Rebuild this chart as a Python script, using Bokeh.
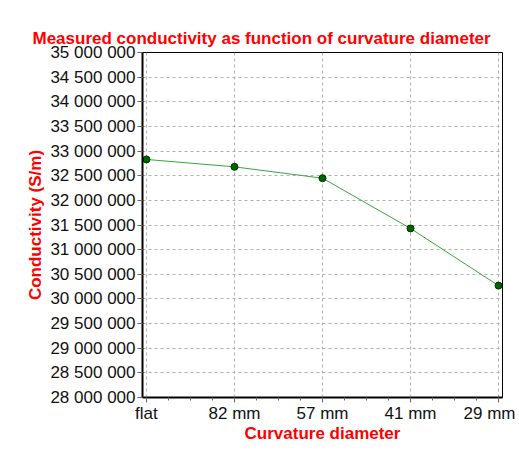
from bokeh.plotting import figure
from bokeh.models import FixedTicker, ColumnDataSource, Range1d
from bokeh.embed import file_html
from bokeh.resources import INLINE

categories = ["flat", "82 mm", "57 mm", "41 mm", "29 mm"]
conductivity = [32830000, 32680000, 32450000, 31430000, 30270000]
y_ticks = list(range(28000000, 35000001, 500000))

xs = list(range(len(categories)))
src = ColumnDataSource(dict(x=xs, y=conductivity))

W, H = 515, 450
p = figure(width=W, height=H, output_backend="svg", toolbar_location=None,
           x_range=Range1d(-0.045, 4.045), y_range=Range1d(28000000, 35000000),
           min_border_left=142, min_border_right=W - 502,
           min_border_top=52, min_border_bottom=H - 397,
           background_fill_color="white", border_fill_color="white")

p.title.text = "Measured conductivity as function of curvature diameter"
p.title.text_color = "#ff0000"
p.title.text_font = "Liberation Sans"
p.title.text_font_size = "17px"
p.title.text_font_style = "bold"
p.title.align = "left"
p.title.offset = -110
p.title.standoff = 9

p.outline_line_color = "black"
p.outline_line_width = 1

p.xaxis.ticker = FixedTicker(ticks=xs, minor_ticks=[i / 4 for i in range(0, 17)])
p.xaxis.major_label_overrides = {i: c for i, c in enumerate(categories)}
p.yaxis.ticker = FixedTicker(ticks=y_ticks)
p.yaxis.major_label_overrides = {v: f"{v:,}".replace(",", " ") for v in y_ticks}

for ax in (p.xaxis[0], p.yaxis[0]):
    ax.axis_line_color = "black"
    ax.axis_line_width = 2
    ax.major_tick_line_color = "#666666"
    ax.minor_tick_line_color = "#666666"
    ax.major_tick_in = 0
    ax.major_tick_out = 5
    ax.minor_tick_in = 0
    ax.minor_tick_out = 3
    ax.major_label_text_font = "Liberation Sans"
    ax.major_label_text_font_size = "17px"
    ax.major_label_text_color = "#111111"
    ax.axis_label_text_font = "Liberation Sans"
    ax.axis_label_text_font_size = "17px"
    ax.axis_label_text_font_style = "bold"
    ax.axis_label_text_color = "#ff0000"

p.yaxis.minor_tick_line_color = None
p.xaxis.axis_label = "Curvature diameter"
p.yaxis.axis_label = "Conductivity (S/m)"
p.xaxis.major_label_standoff = 1
p.yaxis.major_label_standoff = 2
p.xaxis.axis_label_standoff = -2
p.yaxis.axis_label_standoff = 2

for g in (p.xgrid[0], p.ygrid[0]):
    g.grid_line_color = "#b0b0b0"
    g.grid_line_dash = "3 3"
    g.grid_line_width = 1

p.line("x", "y", source=src, line_color="#3aa63a", line_width=1)
p.scatter("x", "y", source=src, size=7, fill_color="#006400", line_color="#003300")

open("out.html", "w").write(file_html(p, INLINE))
